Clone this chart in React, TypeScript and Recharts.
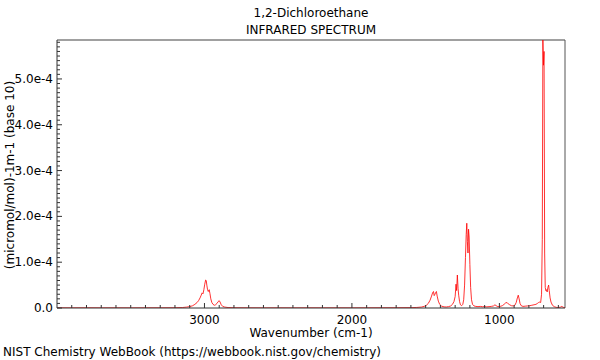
import React from 'react';
import { LineChart, Line, XAxis, YAxis, ReferenceLine } from 'recharts';

// wavenumber (cm-1)
const wavenumbers = [
    4000, 3900, 3800, 3700, 3600, 3500, 3400, 3300, 3200, 3150, 3120, 3100, 3080, 3065, 3050, 3040,
    3030, 3022, 3016, 3010, 3004, 2998, 2992, 2988, 2984, 2979, 2974, 2968, 2963, 2957, 2950, 2942,
    2933, 2925, 2915, 2907, 2900, 2894, 2886, 2876, 2862, 2840, 2800, 2700, 2600, 2500, 2400, 2300,
    2200, 2100, 2000, 1900, 1800, 1700, 1600, 1560, 1530, 1510, 1495, 1482, 1470, 1460, 1452, 1447,
    1442, 1437, 1432, 1427, 1422, 1414, 1405, 1392, 1375, 1360, 1345, 1330, 1318, 1308, 1300, 1294,
    1290, 1285, 1280, 1276, 1270, 1264, 1256, 1248, 1242, 1236, 1230, 1225, 1221, 1217, 1213, 1209,
    1205, 1200, 1195, 1189, 1182, 1172, 1160, 1145, 1130, 1115, 1100, 1085, 1070, 1055, 1040, 1030,
    1022, 1010, 995, 980, 968, 958, 948, 940, 930, 918, 905, 895, 886, 878, 872, 866,
    860, 852, 840, 825, 810, 795, 780, 765, 752, 742, 734, 726, 720, 714, 709, 705,
    701, 697, 693, 689, 685, 681, 676, 671, 666, 662, 656, 650, 640, 628, 615, 600,
    585, 576, 568, 556,
];

// absorbance coefficient, (micromol/mol)-1 m-1
const absorbance = [
    0.004e-4, 0.003e-4, 0.005e-4, 0.003e-4, 0.004e-4, 0.003e-4, 0.004e-4, 0.005e-4, 0.006e-4, 0.01e-4, 0.02e-4, 0.03e-4, 0.05e-4, 0.08e-4, 0.12e-4, 0.16e-4,
    0.22e-4, 0.28e-4, 0.33e-4, 0.31e-4, 0.4e-4, 0.52e-4, 0.61e-4, 0.6e-4, 0.5e-4, 0.4e-4, 0.36e-4, 0.4e-4, 0.32e-4, 0.2e-4, 0.12e-4, 0.08e-4,
    0.06e-4, 0.07e-4, 0.1e-4, 0.14e-4, 0.16e-4, 0.13e-4, 0.07e-4, 0.035e-4, 0.02e-4, 0.01e-4, 0.006e-4, 0.004e-4, 0.003e-4, 0.004e-4, 0.003e-4, 0.004e-4,
    0.003e-4, 0.004e-4, 0.003e-4, 0.004e-4, 0.005e-4, 0.006e-4, 0.008e-4, 0.012e-4, 0.02e-4, 0.035e-4, 0.06e-4, 0.1e-4, 0.17e-4, 0.26e-4, 0.34e-4, 0.36e-4,
    0.27e-4, 0.3e-4, 0.34e-4, 0.36e-4, 0.26e-4, 0.15e-4, 0.08e-4, 0.04e-4, 0.025e-4, 0.022e-4, 0.03e-4, 0.045e-4, 0.08e-4, 0.14e-4, 0.25e-4, 0.52e-4,
    0.38e-4, 0.72e-4, 0.42e-4, 0.28e-4, 0.14e-4, 0.07e-4, 0.05e-4, 0.08e-4, 0.18e-4, 0.5e-4, 1.1e-4, 1.6e-4, 1.85e-4, 1.45e-4, 1.2e-4, 1.72e-4,
    1.55e-4, 0.95e-4, 0.45e-4, 0.18e-4, 0.08e-4, 0.045e-4, 0.035e-4, 0.03e-4, 0.035e-4, 0.028e-4, 0.03e-4, 0.025e-4, 0.03e-4, 0.035e-4, 0.045e-4, 0.07e-4,
    0.05e-4, 0.03e-4, 0.035e-4, 0.05e-4, 0.08e-4, 0.11e-4, 0.12e-4, 0.09e-4, 0.07e-4, 0.05e-4, 0.045e-4, 0.06e-4, 0.12e-4, 0.22e-4, 0.28e-4, 0.2e-4,
    0.1e-4, 0.05e-4, 0.035e-4, 0.04e-4, 0.045e-4, 0.05e-4, 0.06e-4, 0.07e-4, 0.08e-4, 0.1e-4, 0.12e-4, 0.13e-4, 0.12e-4, 0.3e-4, 1.5e-4, 5.85e-4,
    5.3e-4, 5.6e-4, 1.2e-4, 0.45e-4, 0.38e-4, 0.4e-4, 0.35e-4, 0.45e-4, 0.5e-4, 0.38e-4, 0.22e-4, 0.13e-4, 0.06e-4, 0.03e-4, 0.015e-4, 0.01e-4,
    0.02e-4, 0.035e-4, 0.015e-4, 0.01e-4,
];

const xTicks = Array.from({ length: 34 }, (_, i) => 600 + i * 100);
const yTicks = Array.from({ length: 59 }, (_, i) => i * 1e-5);

const X_MIN = 555;
const X_MAX = 4000;
const Y_MAX = 5.85e-4;

const data = wavenumbers.map((wn, i) => ({ wn, a: absorbance[i] }));

const FONT = '"DejaVu Sans", sans-serif';

const XTick = ({ x, y, payload }: any) => {
    const major = payload.value % 1000 === 0;
    return (
        <g>
            <line x1={x} x2={x} y1={y} y2={y - (major ? 5 : 3)} stroke="#333" />
            {major && (
                <text x={x} y={y + 16} textAnchor="middle" fontSize={12} fill="#000" fontFamily={FONT}>
                    {payload.value}
                </text>
            )}
        </g>
    );
};

const YTick = ({ x, y, payload }: any) => {
    const step = Math.round(payload.value * 1e5);
    const major = step % 10 === 0;
    const label = step === 0 ? '0.0' : payload.value.toExponential(1);
    return (
        <g>
            <line x1={x} x2={x + (major ? 5 : 3)} y1={y} y2={y} stroke="#333" />
            {major && (
                <text x={x - 4} y={y + 4} textAnchor="end" fontSize={12} fill="#000" fontFamily={FONT}>
                    {label}
                </text>
            )}
        </g>
    );
};

const txt: React.CSSProperties = {
    position: 'absolute',
    fontFamily: FONT,
    fontSize: 12,
    lineHeight: '14px',
    color: '#000',
    whiteSpace: 'nowrap',
};

export default function App() {
    return (
        <div style={{ position: 'absolute', left: 0, top: 0, width: 600, height: 360, background: '#fff' }}>
            <LineChart
                width={600}
                height={360}
                data={data}
                margin={{ top: 40, right: 35, bottom: 22, left: 0 }}
            >
                <XAxis
                    dataKey="wn"
                    type="number"
                    domain={[X_MIN, X_MAX]}
                    reversed
                    allowDataOverflow
                    ticks={xTicks}
                    interval={0}
                    tickLine={false}
                    tickSize={0}
                    tickMargin={0}
                    tick={<XTick />}
                    height={30}
                    axisLine={{ stroke: '#333' }}
                />
                <YAxis
                    type="number"
                    domain={[0, Y_MAX]}
                    allowDataOverflow
                    ticks={yTicks}
                    interval={0}
                    tickLine={false}
                    tickSize={0}
                    tickMargin={0}
                    tick={<YTick />}
                    width={57}
                    axisLine={{ stroke: '#333' }}
                />
                <ReferenceLine y={Y_MAX} stroke="#a0a0a0" strokeWidth={2} ifOverflow="visible" />
                <ReferenceLine x={X_MIN} stroke="#555" ifOverflow="visible" />
                <Line
                    dataKey="a"
                    type="linear"
                    dot={false}
                    stroke="#ff0000"
                    strokeOpacity={0.8}
                    strokeWidth={1}
                    isAnimationActive={false}
                />
            </LineChart>
            <div style={{ ...txt, left: 0, width: 622, top: 6, textAlign: 'center' }}>1,2-Dichloroethane</div>
            <div style={{ ...txt, left: 0, width: 622, top: 23, textAlign: 'center' }}>INFRARED SPECTRUM</div>
            <div style={{ ...txt, left: 0, width: 622, top: 326, textAlign: 'center' }}>Wavenumber (cm-1)</div>
            <div style={{ ...txt, left: 3, top: 345 }}>NIST Chemistry WebBook (https://webbook.nist.gov/chemistry)</div>
            <div
                style={{
                    ...txt,
                    left: 10,
                    top: 175,
                    transform: 'translate(-50%, -50%) rotate(-90deg)',
                }}
            >
                (micromol/mol)-1m-1 (base 10)
            </div>
        </div>
    );
}
